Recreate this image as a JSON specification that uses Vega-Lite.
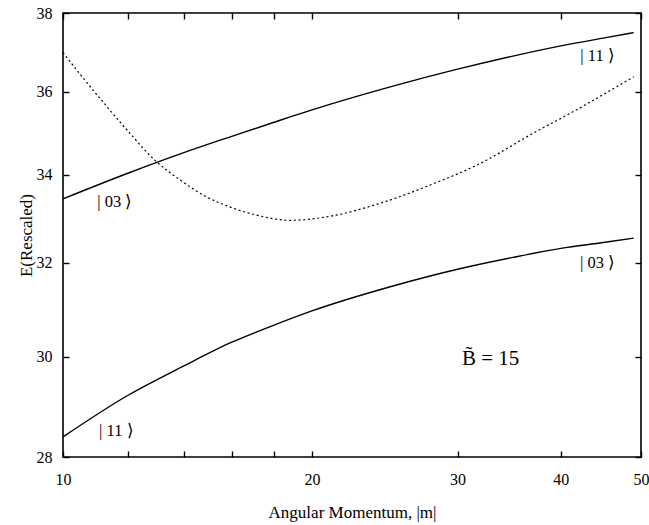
{
  "$schema": "https://vega.github.io/schema/vega-lite/v6.json",
  "width": 578,
  "height": 444,
  "autosize": {"type": "none"},
  "padding": {"left": 63, "top": 13, "right": 8, "bottom": 68},
  "background": "white",
  "config": {
    "view": {"stroke": "black", "strokeWidth": 1.6},
    "axis": {"grid": false, "domain": false, "tickColor": "black", "tickWidth": 1.4, "labelColor": "black", "titleColor": "black", "labelFont": "Liberation Serif", "titleFont": "Liberation Serif", "titleFontWeight": "normal"},
    "text": {"font": "Liberation Serif", "color": "black"}
  },
  "datasets": {
    "curves": [
      {"s": "A", "m": 10, "E": 33.44},
      {"s": "A", "m": 12, "E": 34.04},
      {"s": "A", "m": 14, "E": 34.52},
      {"s": "A", "m": 16, "E": 34.91},
      {"s": "A", "m": 18, "E": 35.25},
      {"s": "A", "m": 20, "E": 35.55},
      {"s": "A", "m": 25, "E": 36.13},
      {"s": "A", "m": 30, "E": 36.56},
      {"s": "A", "m": 35, "E": 36.89},
      {"s": "A", "m": 40, "E": 37.15},
      {"s": "A", "m": 45, "E": 37.35},
      {"s": "A", "m": 49, "E": 37.49},
      {"s": "B", "m": 10, "E": 28.39},
      {"s": "B", "m": 12, "E": 29.22},
      {"s": "B", "m": 14, "E": 29.81},
      {"s": "B", "m": 16, "E": 30.30},
      {"s": "B", "m": 18, "E": 30.66},
      {"s": "B", "m": 20, "E": 30.96},
      {"s": "B", "m": 25, "E": 31.49},
      {"s": "B", "m": 30, "E": 31.86},
      {"s": "B", "m": 35, "E": 32.12},
      {"s": "B", "m": 40, "E": 32.32},
      {"s": "B", "m": 45, "E": 32.45},
      {"s": "B", "m": 49, "E": 32.55},
      {"s": "C", "m": 10, "E": 36.98},
      {"s": "C", "m": 10.5, "E": 36.42},
      {"s": "C", "m": 11.3, "E": 35.63},
      {"s": "C", "m": 12.05, "E": 34.98},
      {"s": "C", "m": 12.9, "E": 34.35},
      {"s": "C", "m": 13.85, "E": 33.88},
      {"s": "C", "m": 14.9, "E": 33.49},
      {"s": "C", "m": 16.1, "E": 33.22},
      {"s": "C", "m": 17.3, "E": 33.05},
      {"s": "C", "m": 18.8, "E": 32.95},
      {"s": "C", "m": 21, "E": 33.04},
      {"s": "C", "m": 24.2, "E": 33.34},
      {"s": "C", "m": 27.8, "E": 33.76},
      {"s": "C", "m": 32, "E": 34.27},
      {"s": "C", "m": 36.7, "E": 34.94},
      {"s": "C", "m": 42.1, "E": 35.59},
      {"s": "C", "m": 49, "E": 36.37}
    ],
    "kets": [
      {"m": 11.55, "E": 33.25, "t": "| 03 ⟩"},
      {"m": 11.6, "E": 28.41, "t": "| 11 ⟩"},
      {"m": 44.3, "E": 36.77, "t": "| 11 ⟩"},
      {"m": 44.3, "E": 31.88, "t": "| 03 ⟩"}
    ],
    "note": [
      {"m": 32.9, "E": 29.83, "t": "B̃ = 15"}
    ]
  },
  "layer": [
    {
      "data": {"name": "curves"},
      "transform": [{"filter": "datum.s !== 'C'"}],
      "mark": {"type": "line", "interpolate": "monotone", "color": "black", "strokeWidth": 1.4},
      "encoding": {
        "x": {"field": "m", "type": "quantitative", "scale": {"type": "log", "domain": [10, 50], "nice": false},
          "axis": {"orient": "bottom", "values": [10, 12, 14, 16, 18, 20, 30, 40, 50], "format": "d", "labelExpr": "datum.value % 10 == 0 ? datum.label : ''", "labelFlush": false, "labelOverlap": false, "tickSize": -6, "labelPadding": 20, "labelFontSize": 16, "title": "Angular Momentum, |m|", "titleFontSize": 17, "titleY": 60, "titleBaseline": "alphabetic"}},
        "y": {"field": "E", "type": "quantitative", "scale": {"type": "log", "domain": [28, 38], "nice": false, "zero": false},
          "axis": {"orient": "left", "values": [28, 30, 32, 34, 36, 38], "format": "d", "labelOverlap": false, "labelFlush": false, "tickSize": -6, "labelPadding": 17, "labelFontSize": 16, "title": "E(Rescaled)", "titleFontSize": 17, "titleX": -32, "titleBaseline": "alphabetic"}},
        "detail": {"field": "s"}
      }
    },
    {
      "data": {"name": "curves"},
      "transform": [{"filter": "datum.s === 'C'"}],
      "mark": {"type": "line", "interpolate": "monotone", "color": "black", "strokeWidth": 1.2, "strokeDash": [2, 2.7]},
      "encoding": {
        "x": {"field": "m", "type": "quantitative", "axis": {"orient": "top", "values": [10, 12, 14, 16, 18, 20, 30, 40, 50], "labels": false, "tickSize": -6, "title": null}},
        "y": {"field": "E", "type": "quantitative", "axis": {"orient": "right", "values": [28, 30, 32, 34, 36, 38], "labels": false, "tickSize": -6, "title": null}}
      }
    },
    {
      "data": {"name": "kets"},
      "mark": {"type": "text", "fontSize": 16.5, "align": "center", "baseline": "alphabetic"},
      "encoding": {
        "x": {"field": "m", "type": "quantitative", "axis": null},
        "y": {"field": "E", "type": "quantitative", "axis": null},
        "text": {"field": "t"}
      }
    },
    {
      "data": {"name": "note"},
      "mark": {"type": "text", "fontSize": 21, "align": "center", "baseline": "alphabetic"},
      "encoding": {
        "x": {"field": "m", "type": "quantitative", "axis": null},
        "y": {"field": "E", "type": "quantitative", "axis": null},
        "text": {"field": "t"}
      }
    }
  ],
  "resolve": {"axis": {"x": "independent", "y": "independent"}}
}
